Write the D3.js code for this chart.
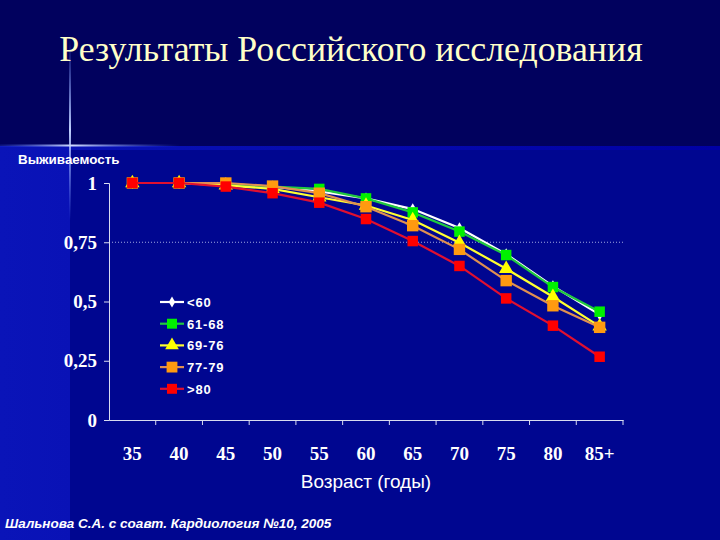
<!DOCTYPE html>
<html>
<head>
<meta charset="utf-8">
<script src="https://cdn.jsdelivr.net/npm/d3@7"></script>
<style>
  body { margin: 0; background: #000060; }
  svg { display: block; }
</style>
</head>
<body>
<script>
const W = 720, H = 540;

const ages = ['35', '40', '45', '50', '55', '60', '65', '70', '75', '80', '85+'];
const groups = ['<60', '61-68', '69-76', '77-79', '>80'];
const under60 = [1, 1, 0.995, 0.985, 0.965, 0.935, 0.89, 0.81, 0.70, 0.565, 0.445];
const g61_68 = [1, 1, 0.995, 0.985, 0.975, 0.935, 0.876, 0.795, 0.696, 0.561, 0.457];
const g69_76 = [1, 1, 0.99, 0.975, 0.94, 0.905, 0.844, 0.748, 0.638, 0.52, 0.395];
const g77_79 = [1, 1, 1, 0.987, 0.957, 0.90, 0.82, 0.72, 0.588, 0.482, 0.391];
const over80 = [1, 1, 0.985, 0.957, 0.917, 0.848, 0.755, 0.65, 0.513, 0.398, 0.267];
const yTicks = [0, 0.25, 0.5, 0.75, 1];

const series = [
  { name: groups[0], values: under60, line: '#ffffff', fill: '#ffffff', shape: d3.symbolDiamond, size: 40 },
  { name: groups[1], values: g61_68, line: '#20c840', fill: '#00f000', shape: d3.symbolSquare, size: 110 },
  { name: groups[2], values: g69_76, line: '#ffff30', fill: '#ffff00', shape: d3.symbolTriangle, size: 90 },
  { name: groups[3], values: g77_79, line: '#e09050', fill: '#ff9a10', shape: d3.symbolSquare, size: 130 },
  { name: groups[4], values: over80, line: '#e01030', fill: '#ff0000', shape: d3.symbolSquare, size: 110 }
];

const svg = d3.select('body').append('svg').attr('width', W).attr('height', H);
const defs = svg.append('defs');

// background
const gLow = defs.append('linearGradient').attr('id', 'low').attr('x1', 0).attr('x2', 1);
gLow.append('stop').attr('offset', 0).attr('stop-color', '#0a14b8');
gLow.append('stop').attr('offset', 1).attr('stop-color', '#0000a4');
const gV = defs.append('linearGradient').attr('id', 'fv').attr('x1', 0).attr('x2', 0).attr('y1', 0).attr('y2', 1);
gV.append('stop').attr('offset', 0).attr('stop-color', '#6a8cff').attr('stop-opacity', 0);
gV.append('stop').attr('offset', 0.5).attr('stop-color', '#c0d0ff').attr('stop-opacity', 1);
gV.append('stop').attr('offset', 1).attr('stop-color', '#6a8cff').attr('stop-opacity', 0);
const gH = defs.append('linearGradient').attr('id', 'fh').attr('x1', 0).attr('x2', 1);
gH.append('stop').attr('offset', 0).attr('stop-color', '#4060ff').attr('stop-opacity', 0.2);
gH.append('stop').attr('offset', 0.4).attr('stop-color', '#d0dcff').attr('stop-opacity', 1);
gH.append('stop').attr('offset', 1).attr('stop-color', '#4060ff').attr('stop-opacity', 0);

svg.append('rect').attr('width', W).attr('height', H).attr('fill', '#01015e');
svg.append('rect').attr('y', 146).attr('width', W).attr('height', H - 146).attr('fill', 'url(#low)');
svg.append('rect').attr('x', 70).attr('y', 150).attr('width', W - 70).attr('height', H - 150).attr('fill', '#000690');

// lens flare
svg.append('rect').attr('x', 69).attr('y', 40).attr('width', 2).attr('height', 180).attr('fill', 'url(#fv)');
svg.append('rect').attr('x', 0).attr('y', 144.5).attr('width', 180).attr('height', 2).attr('fill', 'url(#fh)');

// title
svg.append('text').attr('x', 351).attr('y', 61).attr('text-anchor', 'middle')
  .attr('font-family', 'Liberation Serif, serif').attr('font-size', 35.8)
  .attr('fill', '#ffffc8').text('Результаты Российского исследования');

// scales
const x = d3.scaleBand().domain(ages).range([109, 623]);
const y = d3.scaleLinear().domain([0, 1]).range([420, 183]);

// gridline at 0.75
svg.append('line').attr('x1', 109).attr('x2', 623).attr('y1', y(0.75)).attr('y2', y(0.75))
  .attr('stroke', '#a0a8e0').attr('stroke-width', 1).attr('stroke-dasharray', '1,2');

// axes
const yAxis = svg.append('g').attr('transform', 'translate(109,0)')
  .call(d3.axisLeft(y).tickValues(yTicks).tickSize(5).tickPadding(7)
    .tickFormat(d => String(d).replace('.', ',')));
const xAxis = svg.append('g').attr('transform', 'translate(0,420)')
  .call(d3.axisBottom(x).tickSize(0).tickPadding(27));
// band boundary ticks
xAxis.selectAll('.bt').data(ages).enter().append('line')
  .attr('x1', d => x(d) + x.bandwidth()).attr('x2', d => x(d) + x.bandwidth())
  .attr('y1', 0).attr('y2', 5).attr('stroke', '#d8dcf0');

[yAxis, xAxis].forEach(a => {
  a.select('.domain').attr('stroke', '#d8dcf0');
  a.selectAll('.tick line').attr('stroke', '#d8dcf0');
  a.selectAll('text').attr('fill', '#ffffff').attr('font-family', 'Liberation Serif, serif')
    .attr('font-weight', 'bold').attr('font-size', 19);
});

// lines and markers
const line = d3.line().x((d, i) => x(ages[i]) + x.bandwidth() / 2).y(d => y(d));
series.forEach(s => {
  svg.append('path').datum(s.values).attr('d', line)
    .attr('fill', 'none').attr('stroke', s.line).attr('stroke-width', 2.2);
  svg.selectAll(null).data(s.values).enter().append('path')
    .attr('d', d3.symbol().type(s.shape).size(s.size))
    .attr('transform', (d, i) => `translate(${x(ages[i]) + x.bandwidth() / 2},${y(d)})`)
    .attr('fill', s.fill);
});

// legend
const leg = svg.append('g').attr('transform', 'translate(160,302)');
series.forEach((s, i) => {
  const r = leg.append('g').attr('transform', `translate(0,${i * 21.7})`);
  r.append('line').attr('x1', 0).attr('x2', 24).attr('stroke', s.line).attr('stroke-width', 2.2);
  r.append('path').attr('d', d3.symbol().type(s.shape).size(s.size * 0.9)).attr('transform', 'translate(12,0)').attr('fill', s.fill);
  r.append('text').attr('x', 27).attr('y', 5).attr('fill', '#ffffff')
    .attr('font-family', 'Liberation Sans, Arial, sans-serif').attr('font-weight', 'bold')
    .attr('font-size', 13).attr('letter-spacing', 0.8).text(s.name);
});

// labels
svg.append('text').attr('x', 18).attr('y', 164).attr('fill', '#ffffff')
  .attr('font-family', 'Liberation Sans, Arial, sans-serif').attr('font-weight', 'bold')
  .attr('font-size', 13.4).text('Выживаемость');
svg.append('text').attr('x', 366).attr('y', 488).attr('text-anchor', 'middle').attr('fill', '#ffffff')
  .attr('font-family', 'Liberation Sans, Arial, sans-serif').attr('font-size', 19).text('Возраст (годы)');
svg.append('text').attr('x', 5).attr('y', 528).attr('fill', '#ffffff')
  .attr('font-family', 'Liberation Sans, Arial, sans-serif').attr('font-weight', 'bold').attr('font-style', 'italic')
  .attr('font-size', 13.5).text('Шальнова С.А. с соавт. Кардиология №10, 2005');
</script>
</body>
</html>
